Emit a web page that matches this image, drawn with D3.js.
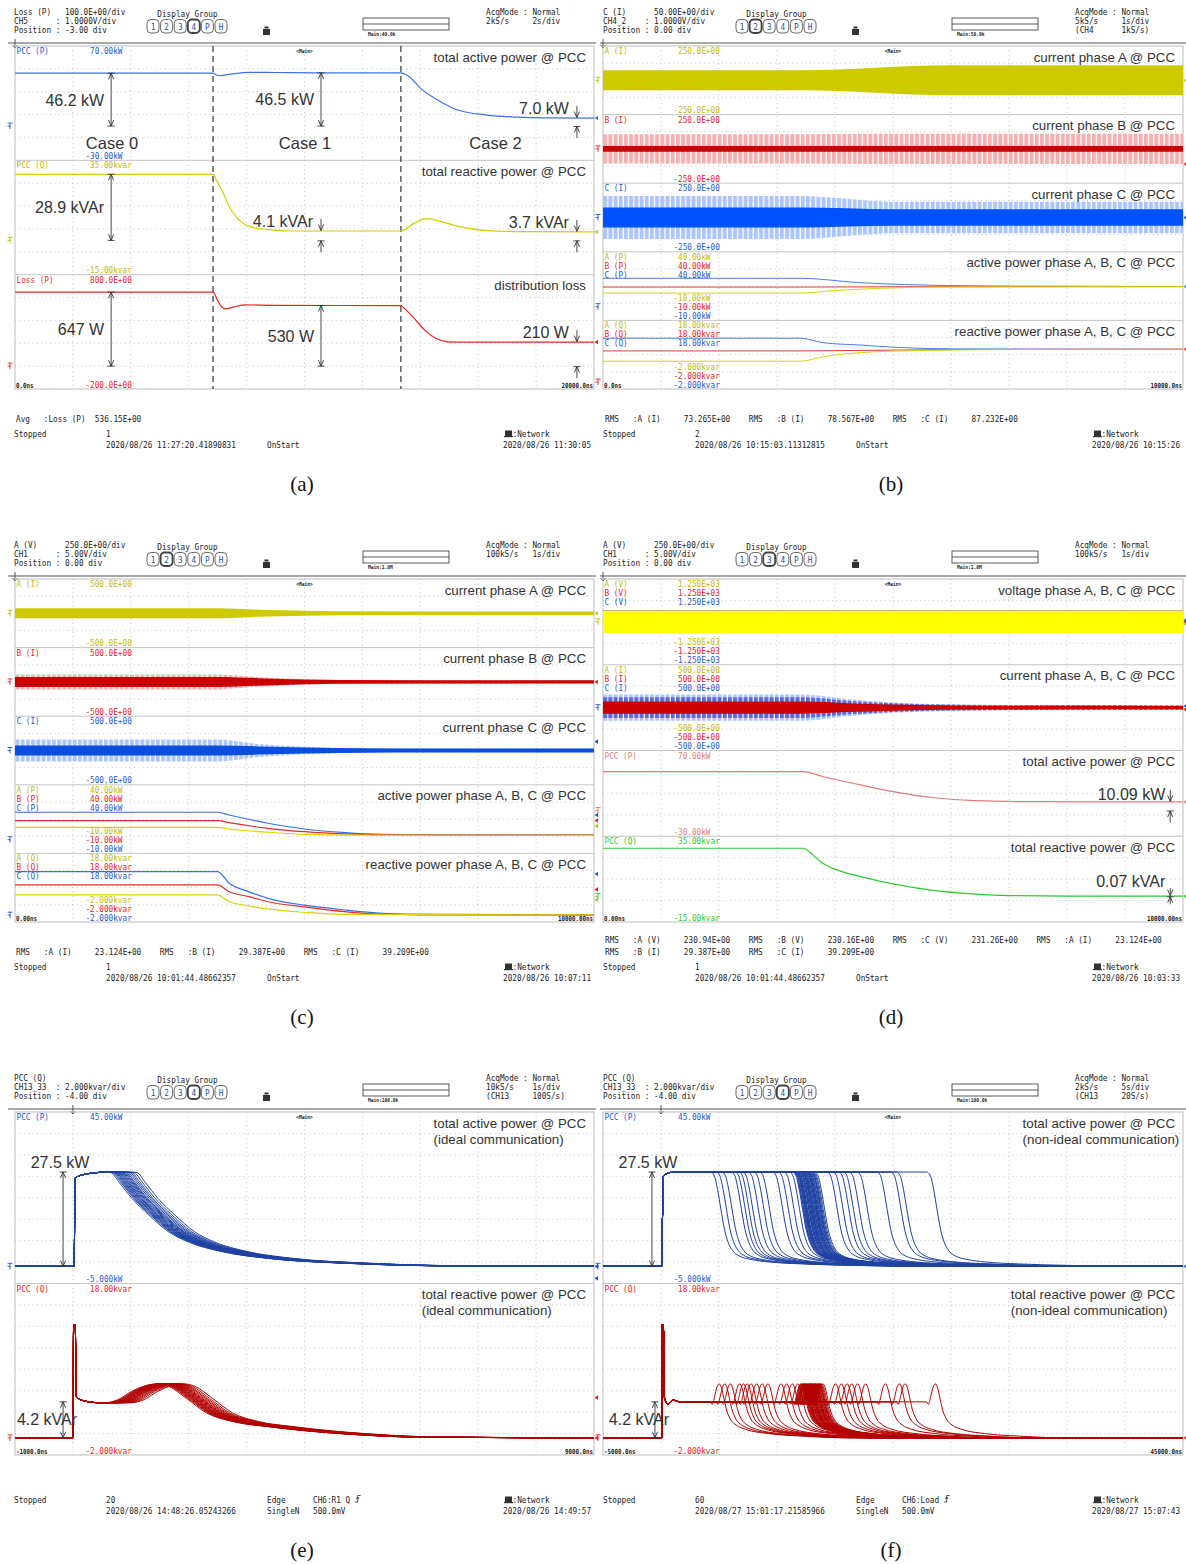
<!DOCTYPE html>
<html>
<head>
<meta charset="utf-8">
<title>PCC power measurements</title>
<script src="https://cdn.jsdelivr.net/npm/d3@7/dist/d3.min.js"></script>
<style>
  html, body { margin: 0; padding: 0; background: #fff; }
  svg { display: block; }
  text { white-space: pre; }
</style>
</head>
<body>
<svg id="fig" width="1186" height="1564" viewBox="0 0 1186 1564"></svg>
<script>
// ======================= recorded data (time in seconds) =======================

// (a) three control cases, 2 s/div
const tA = [0, 20];
const caseEdges_a = [6.84, 13.33];
const caseNames_a = ["Case 0", "Case 1", "Case 2"];
const rangeP_a = [-30, 70], rangeQ_a = [-15, 35], rangeLoss_a = [-200, 800];
const pccP_a = [[0,46.2],[6.84,46.2],[6.95,44.8],[7.08,44.0],[7.5,45.6],[8.08,47.0],[9.0,46.8],[10.5,46.5],[13.33,46.5],[13.6,43.5],[14.0,33.2],[14.7,21.3],[15.3,14.0],[16.3,9.6],[17.3,7.8],[18.5,7.1],[20,7.0]];
const pccQ_a = [[0,28.9],[6.84,28.9],[6.95,26.5],[7.15,21.8],[7.41,14.6],[7.68,9.6],[8.08,6.2],[8.74,4.7],[9.53,4.1],[13.33,4.1],[13.75,7.2],[14.2,9.5],[14.7,8.3],[15.3,6.1],[16.3,4.3],[17.5,3.8],[20,3.7]];
const loss_a = [[0,647],[6.84,647],[7.0,574],[7.15,515],[7.28,501],[7.55,516],[7.95,536],[9,531],[13.33,530],[13.45,505],[13.75,429],[14.16,313],[14.55,241],[14.95,212],[15.5,210],[20,210]];
// annotated levels: [sub-panel, marker time, level, text, kind]
const notes_a = [
  [0, 3.32, 46.2, "46.2 kW", "span"], [0, 10.57, 46.5, "46.5 kW", "span"], [0, 19.41, 7.0, "7.0 kW", "out"],
  [1, 3.32, 28.9, "28.9 kVAr", "span"], [1, 10.57, 4.1, "4.1 kVAr", "out"], [1, 19.41, 3.7, "3.7 kVAr", "out"],
  [2, 3.32, 647, "647 W", "span"], [2, 10.57, 530, "530 W", "span"], [2, 19.41, 210, "210 W", "out"]
];

// (b) phase currents (peak envelopes, A) and per-phase powers, 1 s/div
const tB = [0, 10];
const iA_b = [[0,73],[3.4,73],[6.0,109],[10,109]];
const iB_b = [[0,106],[3.4,106],[4.6,110],[10,110]];
const iBcore_b = [[0,21],[10,21]];
const iC_b = [[0,156],[3.4,156],[5.0,115],[10,115]];
const iCcore_b = [[0,73],[3.4,73],[5.0,61],[10,61]];
const pA_b = [[0,9.9],[3.4,9.9],[4.0,11.8],[4.8,13.4],[6,14.4],[10,14.6]];
const pB_b = [[0,14.3],[3.4,14.3],[6,14.6],[10,14.6]];
const pC_b = [[0,20.7],[3.4,20.7],[4.4,17.6],[5.2,16.1],[7,15.0],[10,14.7]];
const qA_b = [[0,6.1],[3.4,6.1],[3.8,7.4],[4.45,8.6],[5.4,9.2],[7,9.5],[10,9.6]];
const qB_b = [[0,9.1],[3.4,9.1],[6,9.5],[10,9.6]];
const qC_b = [[0,12.8],[3.4,12.8],[3.8,11.5],[4.45,10.8],[5.1,10.1],[6.05,9.7],[10,9.6]];

// (c) phase currents and per-phase powers, 1 s/div
const tC = [0, 10];
const iA_c = [[0,73],[3.5,73],[4.2,52],[5.0,36],[5.6,29],[10,25]];
const iB_c = [[0,109],[3.5,109],[4.2,70],[5.0,40],[5.6,30],[10,25]];
const iBcore_c = [[0,73],[3.5,73],[4.2,55],[5.0,35],[5.6,28],[10,24]];
const iC_c = [[0,160],[3.5,160],[4.2,95],[5.0,55],[6.0,35],[7.0,30],[10,29]];
const iCcore_c = [[0,73],[3.5,73],[4.2,60],[5.0,45],[6.0,34],[7.0,29],[10,28]];
const pA_c = [[0,9.0],[3.5,9.0],[3.7,7.8],[4.37,5.4],[5.0,3.9],[5.7,3.3],[10,3.2]];
const pB_c = [[0,13.9],[3.5,13.9],[3.7,12.4],[4.37,8.3],[5.0,5.8],[5.7,4.2],[6.35,3.6],[10,3.3]];
const pC_c = [[0,20.0],[3.5,20.0],[3.7,18.0],[4.37,12.0],[5.0,7.8],[5.7,5.1],[6.35,3.8],[7.5,3.3],[10,3.3]];
const qA_c = [[0,5.9],[3.5,5.9],[3.7,3.9],[4.04,2.7],[4.37,1.8],[5.0,0.8],[5.7,0.2],[10,0.05]];
const qB_c = [[0,8.8],[3.5,8.8],[3.7,6.8],[4.04,5.4],[4.37,3.9],[5.0,2.4],[5.7,1.0],[6.35,0.3],[10,0.05]];
const qC_c = [[0,12.7],[3.5,12.7],[3.7,9.3],[4.04,6.8],[4.37,4.9],[5.0,2.9],[5.7,1.5],[6.35,0.5],[7.0,0.1],[10,0.05]];

// (d) phase voltages, currents and PCC totals, 1 s/div
const tD = [0, 10];
const vPeak_d = [326.6, 325.5, 327.1];   // phase A, B, C
const iOuter_d = [[0,152],[3.45,152],[4.2,100],[5,60],[6,38],[7,30],[10,29]];
const iMid_d = [[0,120],[3.45,120],[4.2,80],[5,50],[6,33],[7,27],[10,26]];
const iCore_d = [[0,70],[3.45,70],[4.2,52],[5,35],[6,25],[7,21],[10,20]];
const pccP_d = [[0,45.3],[3.45,45.3],[3.8,39.4],[4.45,29.7],[5.1,20.8],[5.7,14.9],[6.4,11.5],[7.5,10.3],[10,10.09]];
const pccQ_d = [[0,28.0],[3.45,28.0],[3.62,24.0],[3.79,19.2],[4.12,14.4],[4.44,11.5],[5.09,6.6],[5.72,3.3],[6.38,1.4],[7.0,0.4],[8,0.1],[10,0.07]];
const notes_d = [[2, 9.78, 10.09, "10.09 kW"], [3, 9.78, 0.07, "0.07 kVAr"]];

// (e) 20 load-step runs, ideal communication, 1 s/div
const tE = [-1, 9];
const depart_e = [0.56,0.59,0.61,0.63,0.65,0.66,0.68,0.70,0.71,0.73,0.75,0.77,0.79,0.81,0.83,0.86,0.89,0.92,0.96,1.01];
const riseP_e = [[-1,0],[0.02,0],[0.04,25.8],[0.2,26.8],[0.4,27.3],[0.55,27.5]];
const fallP_e = [[0,27.5],[0.1,27.3],[0.23,24.7],[0.46,19.8],[0.75,15.0],[1.09,10.1],[1.42,7.2],[2.01,4.3],[2.81,2.3],[4.13,0.9],[6.12,0.1],[9,0],[12,0]];
const riseQ_e = [[-1,0],[0.0,0],[0.012,13.2],[0.04,13.2],[0.06,4.8],[0.2,4.3],[0.45,4.1]];
const bumpQ_e = [[0,4.1],[0.2,4.4],[0.45,5.4],[0.7,6.1],[0.9,6.3],[1.1,6.0],[1.4,4.6],[1.75,2.9],[2.2,1.9],[2.81,1.3],[4.13,0.45],[5.5,0.07],[9,0],[12,0]];

// (f) 60 load-step runs, non-ideal communication, 5 s/div
const tF = [-5, 45];
const depart_f = [4.27,4.75,5.23,6.04,6.37,6.69,7.02,7.5,7.98,8.47,9.6,10.09,10.57,11.05,
  11.31,11.38,11.42,11.49,11.55,11.58,11.66,11.71,11.74,11.83,11.87,11.93,11.96,12.04,12.07,12.15,
  12.2,12.24,12.31,12.35,12.43,12.46,12.52,12.6,12.63,12.71,12.76,12.84,12.92,13.0,13.09,13.21,
  14.3,14.8,15.3,15.7,16.2,16.9,18.6,19.8,20.3,22.9,11.62,12.11,12.55,12.88];
const riseP_f = [[-5,0],[0.05,0],[0.2,26.2],[0.6,27.2],[1.2,27.5]];
const fallP_f = [[0,27.5],[0.3,26.6],[0.6,22.5],[0.9,16.5],[1.2,10.8],[1.5,7.2],[1.9,4.6],[2.5,3.0],[3.5,2.0],[5,1.3],[8,0.7],[12,0.3],[18,0],[40,0]];
const riseQ_f = [[-5,0],[0.05,0],[0.1,13.2],[0.2,13.2],[0.3,4.7],[0.6,3.9],[1.0,4.4],[1.6,4.2]];
const bumpQ_f = [[0,4.2],[0.15,3.9],[0.35,4.8],[0.55,5.9],[0.75,6.3],[0.95,5.8],[1.15,4.6],[1.35,3.4],[1.7,2.2],[2.2,1.5],[3,1.0],[5,0.5],[8,0.2],[12,0],[40,0]];

// annotated step levels in (e) and (f): [sub-panel, marker time, level, text]
const notes_e = [[0, -0.17, 27.5, "27.5 kW"], [1, -0.17, 4.2, "4.2 kVAr"]];
const notes_f = [[0, -0.78, 27.5, "27.5 kW"], [1, -0.52, 4.2, "4.2 kVAr"]];

// instrument header / footer texts
const head_a = ["Loss (P)   100.0E+00/div", "CH5      : 1.0000V/div", "Position : -3.00 div"];
const head_b = ["C (I)      50.00E+00/div", "CH4_2    : 1.0000V/div", "Position : 0.00 div"];
const head_cd = ["A (V)      250.0E+00/div", "CH1      : 5.00V/div", "Position : 0.00 div"];
const head_ef = ["PCC (Q)", "CH13_33  : 2.000kvar/div", "Position : -4.00 div"];
const acq_a = ["AcqMode : Normal", "2kS/s     2s/div"];
const acq_b = ["AcqMode : Normal", "5kS/s     1s/div", "(CH4      1kS/s)"];
const acq_cd = ["AcqMode : Normal", "100kS/s   1s/div"];
const acq_e = ["AcqMode : Normal", "10kS/s    1s/div", "(CH13     100S/s)"];
const acq_f = ["AcqMode : Normal", "2kS/s     5s/div", "(CH13     20S/s)"];
const foot_a = { stat: ["Avg   :Loss (P)  536.15E+00"], count: "1", start: "2020/08/26 11:27:20.41890831", end: "2020/08/26 11:30:05" };
const foot_b = { stat: ["RMS   :A (I)     73.265E+00    RMS   :B (I)     78.567E+00    RMS   :C (I)     87.232E+00"], count: "2", start: "2020/08/26 10:15:03.11312815", end: "2020/08/26 10:15:26" };
const foot_c = { stat: ["RMS   :A (I)     23.124E+00    RMS   :B (I)     29.387E+00    RMS   :C (I)     39.209E+00"], count: "1", start: "2020/08/26 10:01:44.48662357", end: "2020/08/26 10:07:11" };
const foot_d = { stat: ["RMS   :A (V)     230.94E+00    RMS   :B (V)     230.16E+00    RMS   :C (V)     231.26E+00    RMS   :A (I)     23.124E+00",
                        "RMS   :B (I)     29.387E+00    RMS   :C (I)     39.209E+00"], count: "1", start: "2020/08/26 10:01:44.48662357", end: "2020/08/26 10:03:33" };
const foot_e = { stat: [], count: "20", start: "2020/08/26 14:48:26.05243266", edge: ["Edge", "CH6:R1 Q", "SingleN", "500.0mV"], end: "2020/08/26 14:49:57" };
const foot_f = { stat: [], count: "60", start: "2020/08/27 15:01:17.21585966", edge: ["Edge", "CH6:Load", "SingleN", "500.0mV"], end: "2020/08/27 15:07:43" };
const captions = ["(a)", "(b)", "(c)", "(d)", "(e)", "(f)"];

// ======================= drawing =======================
const ROW_Y = [0, 533, 1066];
const COL_X = [[15, 594], [603, 1183]];
const HEAD_X = [14, 603];
const RULE_X = [[8, 596], [600, 1186]];
const MONO = "'DejaVu Sans Mono','Liberation Mono',monospace";
const SANS = "'Liberation Sans',Arial,Helvetica,sans-serif";
const SERIF = "'Liberation Serif','Times New Roman',serif";
const COL = {
  labBlue: "#2459d6", pBlue: "#3b72e6", labYellow: "#c2bc00", qYellow: "#d4ce00", red: "#f02020",
  bandYellow: "#cdcb00", coreRed: "#cc0000", coreBlue: "#0052ff",
  lineY: "#d9d21c", lineR: "#e63a3a", lineB: "#4b7ce8",
  pink: "#e67a7a", green: "#2dcc2d", volt: "#ffff00", runP: "#1e41a2", runQ: "#b30000"
};

const svg = d3.select("#fig");
const defs = svg.append("defs");
svg.append("rect").attr("width", 1186).attr("height", 1564).attr("fill", "#fff");

function stripe(id, color) {
  const p = defs.append("pattern").attr("id", id).attr("patternUnits", "userSpaceOnUse")
    .attr("width", 5.2).attr("height", 8);
  p.append("rect").attr("width", 3.9).attr("height", 8).attr("fill", color);
}
stripe("stripeRed", "#f4b0b0");
stripe("stripeBlue", "#abc5ff");
stripe("stripeNavy", "#5a6bd8");

function mono(g, x, y, s, fill, size, anchor, weight) {
  return g.append("text")
    .attr("transform", `translate(${x},${y}) scale(0.83,1)`)
    .attr("font-family", MONO).attr("font-size", size || 9.3)
    .attr("fill", fill || "#1a1a1a")
    .attr("text-anchor", anchor || "start")
    .attr("font-weight", weight || null)
    .text(s);
}
function sans(g, x, y, s, size, anchor) {
  return g.append("text").attr("x", x).attr("y", y)
    .attr("font-family", SANS).attr("font-size", size)
    .attr("fill", "#333").attr("text-anchor", anchor || "start").text(s);
}

let clipCount = 0;
function scope(col, row, cfg) {
  const oy = ROW_Y[row], hx = HEAD_X[col];
  const [x0, x1] = COL_X[col];
  const y0 = 46 + oy, y1 = 389 + oy;
  const g = svg.append("g");
  const x = d3.scaleLinear().domain(cfg.time).range([x0, x1]);
  const sy = d3.range(cfg.nSub + 1).map(i => y0 + i * (y1 - y0) / cfg.nSub);

  // header block
  cfg.head.forEach((s, i) => mono(g, hx, oy + 15 + 9 * i, s));
  mono(g, hx + 173.5, oy + 17, "Display Group", null, 9.3, "middle");
  ["1", "2", "3", "4", "P", "H"].forEach((s, i) => {
    const bx = hx + 133 + 13.6 * i;
    g.append("rect").attr("x", bx).attr("y", oy + 19.5).attr("width", 12).attr("height", 13.5)
      .attr("rx", 4).attr("fill", "#fff").attr("stroke", "#444")
      .attr("stroke-width", cfg.group === i ? 1.9 : 0.8);
    mono(g, bx + 6, oy + 29.8, s, "#1f4f9f", 9.3, "middle");
  });
  g.append("rect").attr("x", hx + 249).attr("y", oy + 29).attr("width", 7).attr("height", 6).attr("fill", "#333");
  g.append("rect").attr("x", hx + 250.5).attr("y", oy + 26.5).attr("width", 4).attr("height", 2).attr("fill", "#333");
  g.append("rect").attr("x", hx + 349).attr("y", oy + 18).attr("width", 86).attr("height", 12)
    .attr("fill", "none").attr("stroke", "#333").attr("stroke-width", 0.8);
  g.append("line").attr("x1", hx + 349).attr("x2", hx + 435).attr("y1", oy + 24).attr("y2", oy + 24)
    .attr("stroke", "#333").attr("stroke-width", 0.8);
  mono(g, hx + 354, oy + 36, cfg.main, null, 5.5, null, "bold");
  cfg.acq.forEach((s, i) => mono(g, hx + 472, oy + 15 + 9 * i, s));
  g.append("line").attr("x1", RULE_X[col][0]).attr("x2", RULE_X[col][1])
    .attr("y1", oy + 43).attr("y2", oy + 43).attr("stroke", "#555").attr("stroke-width", 1);
  const tx = cfg.trig == null ? x0 : x(cfg.trig);
  g.append("path").attr("d", `M${tx},${oy + 39}V${oy + 48}M${tx - 2.5},${oy + 45}L${tx},${oy + 48}L${tx + 2.5},${oy + 45}`)
    .attr("fill", "none").attr("stroke", "#333").attr("stroke-width", 0.8);

  // screen grid
  const grid = g.append("g").attr("stroke", "#b3b3b3").attr("stroke-width", 0.8).attr("stroke-dasharray", "1,3.4");
  d3.range(1, 10).forEach(i => {
    const gx = x0 + i * (x1 - x0) / 10;
    grid.append("line").attr("x1", gx).attr("x2", gx).attr("y1", y0).attr("y2", y1);
  });
  for (let k = 0; k < cfg.nSub; k++) {
    for (let j = 1; j < cfg.nDiv; j++) {
      const gy = sy[k] + j * (sy[k + 1] - sy[k]) / cfg.nDiv;
      grid.append("line").attr("x1", x0).attr("x2", x1).attr("y1", gy).attr("y2", gy);
    }
  }
  sy.slice(1, -1).forEach(v => g.append("line").attr("x1", x0).attr("x2", x1)
    .attr("y1", v).attr("y2", v).attr("stroke", "#c6c6c6"));
  g.append("rect").attr("x", x0).attr("y", y0).attr("width", x1 - x0).attr("height", y1 - y0)
    .attr("fill", "none").attr("stroke", "#bdbdbd");
  mono(g, (x0 + x1) / 2, y0 + 7, "<Main>", null, 5.5, "middle", "bold");

  const id = "clip" + (clipCount++);
  defs.append("clipPath").attr("id", id).append("rect")
    .attr("x", x0).attr("y", y0).attr("width", x1 - x0).attr("height", y1 - y0);
  const plot = g.append("g").attr("clip-path", `url(#${id})`);
  const over = g.append("g");
  mono(over, x0 + 1, y1 - 1.5, cfg.tLabels[0], null, 7, null, "bold");
  mono(over, x1 - 1, y1 - 1.5, cfg.tLabels[1], null, 7, "end", "bold");
  return { g: over, plot, x, sy, x0, x1, y0, y1, oy, hx };
}

function footer(P, f) {
  const g = P.g, oy = P.oy, hx = P.hx;
  f.stat.forEach((s, i) => mono(g, hx + 2, oy + 422 - 12 * (f.stat.length - 1 - i), s));
  mono(g, hx, oy + 437, "Stopped");
  mono(g, hx + 92, oy + 437, f.count);
  mono(g, hx + 92, oy + 448, f.start);
  if (f.edge) {
    mono(g, hx + 253, oy + 437, f.edge[0]);
    mono(g, hx + 299, oy + 437, f.edge[1]);
    const ex = hx + 299 + f.edge[1].length * 4.65 + 5;
    g.append("path").attr("d", `M${ex},${oy + 436}h2.5v-6.5h3M${ex + 1},${oy + 433}l1.5,-2l1.5,2`)
      .attr("fill", "none").attr("stroke", "#222").attr("stroke-width", 0.8);
    mono(g, hx + 253, oy + 448, f.edge[2]);
    mono(g, hx + 299, oy + 448, f.edge[3]);
  } else {
    mono(g, hx + 253, oy + 448, "OnStart");
  }
  g.append("rect").attr("x", hx + 491).attr("y", oy + 430.5).attr("width", 7).attr("height", 5.5).attr("fill", "#333");
  g.append("rect").attr("x", hx + 490).attr("y", oy + 436).attr("width", 9).attr("height", 1.2).attr("fill", "#333");
  mono(g, hx + 498.5, oy + 437, ":Network");
  mono(g, hx + 489, oy + 448, f.end);
}

function yScale(P, k, dom) {
  return d3.scaleLinear().domain(dom).range([P.sy[k + 1], P.sy[k]]);
}
function trace(P, data, y, color, w) {
  return P.plot.append("path").datum(data)
    .attr("fill", "none").attr("stroke", color).attr("stroke-width", w || 1.2)
    .attr("stroke-linejoin", "round")
    .attr("d", d3.line().x(d => P.x(d[0])).y(d => y(d[1])).curve(d3.curveMonotoneX));
}
function band(P, env, y, fill) {
  return P.plot.append("path").datum(env).attr("fill", fill)
    .attr("d", d3.area().x(d => P.x(d[0])).y0(d => y(-d[1])).y1(d => y(d[1])).curve(d3.curveMonotoneX));
}
function chanText(P, k, chans, colors) {
  const top = P.sy[k], bot = P.sy[k + 1], xv = P.x0 + 70.4;
  chans.forEach((c, i) => {
    mono(P.g, P.x0 + 1.5, top + 8 + 9 * i, c[0], colors[i]);
    mono(P.g, xv, top + 8 + 9 * i, c[1], colors[i]);
    mono(P.g, xv, bot - 1.5 - 9 * (chans.length - 1 - i), c[2], colors[i]);
  });
}
function title(P, k, lines) {
  const t1 = sans(P.g, P.x1 - 8, P.sy[k] + 15.5, lines[0], 13.3, "end");
  if (lines[1]) {
    const bx = t1.node().getBBox().x;
    sans(P.g, bx, P.sy[k] + 31.5, lines[1], 13.3);
  }
}
function zeroMark(P, y, color) {
  const xm = P.x0 - 5;
  P.g.append("path").attr("d", `M${xm - 2.5},${y - 3}h5M${xm},${y - 3}v6M${xm - 2.5},${y}h3`)
    .attr("stroke", color).attr("fill", "none").attr("stroke-width", 0.9);
}
function endMark(P, y, color) {
  P.g.append("path").attr("d", `M${P.x1 + 0.5},${y}l3.5,-2.3v4.6z`).attr("fill", color);
}
function head(g, xa, yy, dir) {
  // open arrow head whose tip sits at (xa, yy); dir = 1 points down, -1 points up
  g.append("path").attr("d", `M${xa - 2.6},${yy - dir * 6}L${xa},${yy}L${xa + 2.6},${yy - dir * 6}`);
}
function arrowGroup(P) {
  return P.g.append("g").attr("stroke", "#333").attr("stroke-width", 0.9).attr("fill", "none");
}
function spanNote(P, t, y, level, text, lab) {
  const xa = P.x(t), ya = y(level), yb = y(0);
  const a = arrowGroup(P);
  a.append("line").attr("x1", xa).attr("x2", xa).attr("y1", ya).attr("y2", yb);
  head(a, xa, ya, -1); head(a, xa, yb, 1);
  a.append("path").attr("d", `M${xa - 3.5},${ya}h7M${xa - 3.5},${yb}h7`);
  const mid = (ya + yb) / 2;
  const ly = lab.above ? ya - 4 : mid + lab.dy;
  sans(P.g, xa + lab.dx, ly, text, 16, lab.anchor);
}
function outNote(P, t, y, level, text, len, dy, dx) {
  const xa = P.x(t), ya = y(level), yz = y(0);
  const a = arrowGroup(P);
  a.append("line").attr("x1", xa).attr("x2", xa).attr("y1", ya - len).attr("y2", ya - 0.5);
  head(a, xa, ya - 0.5, 1);
  a.append("line").attr("x1", xa).attr("x2", xa).attr("y1", yz + len).attr("y2", yz + 0.5);
  head(a, xa, yz + 0.5, -1);
  a.append("path").attr("d", `M${xa - 3.5},${yz + 0.5}h7`);
  sans(P.g, xa + dx, ya + dy, text, 16, "end");
}
function runs(rise, fall, departs) {
  return departs.map(d => rise.filter(p => p[0] < d).concat(fall.map(p => [p[0] + d, p[1]])));
}

// ---------------- (a) ----------------
const pa = scope(0, 0, { time: tA, nSub: 3, nDiv: 5, head: head_a, group: 3, main: "Main:40.0k", acq: acq_a, tLabels: ["0.0ns", "20000.0ns"] });
const yPa = yScale(pa, 0, rangeP_a), yQa = yScale(pa, 1, rangeQ_a), yLa = yScale(pa, 2, rangeLoss_a);
const ysA = [yPa, yQa, yLa];
caseEdges_a.forEach(t => pa.plot.append("line").attr("x1", pa.x(t)).attr("x2", pa.x(t))
  .attr("y1", pa.y0).attr("y2", pa.y1).attr("stroke", "#222").attr("stroke-width", 1.1).attr("stroke-dasharray", "6,4"));
trace(pa, pccP_a, yPa, COL.pBlue);
trace(pa, pccQ_a, yQa, COL.qYellow);
trace(pa, loss_a, yLa, COL.red);
chanText(pa, 0, [["PCC (P)", " 70.00kW", "-30.00kW"]], [COL.labBlue]);
chanText(pa, 1, [["PCC (Q)", " 35.00kvar", "-15.00kvar"]], [COL.labYellow]);
chanText(pa, 2, [["Loss (P)", " 800.0E+00", "-200.0E+00"]], [COL.red]);
title(pa, 0, ["total active power @ PCC"]);
title(pa, 1, ["total reactive power @ PCC"]);
title(pa, 2, ["distribution loss"]);
const caseBounds = [tA[0], ...caseEdges_a, tA[1]];
caseNames_a.forEach((s, i) => sans(pa.g, (pa.x(caseBounds[i]) + pa.x(caseBounds[i + 1])) / 2 - 2, pa.sy[1] - 11, s, 16.5, "middle"));
notes_a.forEach(([k, t, v, s, kind]) => {
  if (kind === "span") spanNote(pa, t, ysA[k], v, s, { dx: -7, dy: 6, anchor: "end" });
  else outNote(pa, t, ysA[k], v, s, 12, -4, -8);
});
[[yPa, COL.labBlue], [yQa, COL.labYellow], [yLa, COL.red]].forEach(([y, c]) => zeroMark(pa, y(0), c));
endMark(pa, yPa(pccP_a[pccP_a.length - 1][1]), COL.pBlue);
endMark(pa, yQa(pccQ_a[pccQ_a.length - 1][1]), COL.qYellow);
endMark(pa, yLa(loss_a[loss_a.length - 1][1]), COL.red);
footer(pa, foot_a);

// ---------------- (b) ----------------
const pb = scope(1, 0, { time: tB, nSub: 5, nDiv: 4, head: head_b, group: 1, main: "Main:50.0k", acq: acq_b, tLabels: ["0.0ns", "10000.0ns"] });
const yIb = [0, 1, 2].map(k => yScale(pb, k, [-250, 250]));
const yPb = yScale(pb, 3, [-10, 40]), yQb = yScale(pb, 4, [-2, 18]);
band(pb, iA_b, yIb[0], COL.bandYellow);
band(pb, iB_b, yIb[1], "url(#stripeRed)");
band(pb, iBcore_b, yIb[1], COL.coreRed);
band(pb, iC_b, yIb[2], "url(#stripeBlue)");
band(pb, iCcore_b, yIb[2], COL.coreBlue);
trace(pb, pC_b, yPb, COL.lineB, 1); trace(pb, pB_b, yPb, COL.lineR, 1); trace(pb, pA_b, yPb, COL.lineY, 1);
trace(pb, qC_b, yQb, COL.lineB, 1); trace(pb, qB_b, yQb, COL.lineR, 1); trace(pb, qA_b, yQb, COL.lineY, 1);
const abc = [COL.labYellow, COL.red, COL.labBlue];
chanText(pb, 0, [["A (I)", " 250.0E+00", "-250.0E+00"]], [COL.labYellow]);
chanText(pb, 1, [["B (I)", " 250.0E+00", "-250.0E+00"]], [COL.red]);
chanText(pb, 2, [["C (I)", " 250.0E+00", "-250.0E+00"]], [COL.labBlue]);
chanText(pb, 3, [["A (P)", " 40.00kW", "-10.00kW"], ["B (P)", " 40.00kW", "-10.00kW"], ["C (P)", " 40.00kW", "-10.00kW"]], abc);
chanText(pb, 4, [["A (Q)", " 18.00kvar", "-2.000kvar"], ["B (Q)", " 18.00kvar", "-2.000kvar"], ["C (Q)", " 18.00kvar", "-2.000kvar"]], abc);
title(pb, 0, ["current phase A @ PCC"]);
title(pb, 1, ["current phase B @ PCC"]);
title(pb, 2, ["current phase C @ PCC"]);
title(pb, 3, ["active power phase A, B, C @ PCC"]);
title(pb, 4, ["reactive power phase A, B, C @ PCC"]);
zeroMark(pb, yIb[0](0), COL.labYellow); zeroMark(pb, yIb[1](0), COL.red); zeroMark(pb, yIb[2](0), COL.labBlue);
zeroMark(pb, yPb(0), COL.labBlue); zeroMark(pb, yQb(0), COL.red);
endMark(pb, yIb[0](0), COL.bandYellow); endMark(pb, yIb[1](-110), COL.red); endMark(pb, yIb[2](0), COL.coreBlue);
endMark(pb, yPb(14.6), COL.lineB); endMark(pb, yQb(9.6), COL.red);
footer(pb, foot_b);

// ---------------- (c) ----------------
const pc = scope(0, 1, { time: tC, nSub: 5, nDiv: 4, head: head_cd, group: 1, main: "Main:1.0M", acq: acq_cd, tLabels: ["0.00ns", "10000.00ns"] });
const yIc = [0, 1, 2].map(k => yScale(pc, k, [-500, 500]));
const yPc = yScale(pc, 3, [-10, 40]), yQc = yScale(pc, 4, [-2, 18]);
band(pc, iA_c, yIc[0], COL.bandYellow);
band(pc, iB_c, yIc[1], "url(#stripeRed)");
band(pc, iBcore_c, yIc[1], COL.coreRed);
band(pc, iC_c, yIc[2], "url(#stripeBlue)");
band(pc, iCcore_c, yIc[2], "#0a4ee0");
trace(pc, pC_c, yPc, "#3a6fe3", 1.2); trace(pc, pB_c, yPc, "#e42a2a", 1.2); trace(pc, pA_c, yPc, "#dcd400", 1.2);
trace(pc, qC_c, yQc, "#3a6fe3", 1.2); trace(pc, qB_c, yQc, "#e42a2a", 1.2); trace(pc, qA_c, yQc, "#dcd400", 1.2);
chanText(pc, 0, [["A (I)", " 500.0E+00", "-500.0E+00"]], [COL.labYellow]);
chanText(pc, 1, [["B (I)", " 500.0E+00", "-500.0E+00"]], [COL.red]);
chanText(pc, 2, [["C (I)", " 500.0E+00", "-500.0E+00"]], [COL.labBlue]);
chanText(pc, 3, [["A (P)", " 40.00kW", "-10.00kW"], ["B (P)", " 40.00kW", "-10.00kW"], ["C (P)", " 40.00kW", "-10.00kW"]], abc);
chanText(pc, 4, [["A (Q)", " 18.00kvar", "-2.000kvar"], ["B (Q)", " 18.00kvar", "-2.000kvar"], ["C (Q)", " 18.00kvar", "-2.000kvar"]], abc);
title(pc, 0, ["current phase A @ PCC"]);
title(pc, 1, ["current phase B @ PCC"]);
title(pc, 2, ["current phase C @ PCC"]);
title(pc, 3, ["active power phase A, B, C @ PCC"]);
title(pc, 4, ["reactive power phase A, B, C @ PCC"]);
zeroMark(pc, yIc[0](0), COL.labYellow); zeroMark(pc, yIc[1](0), COL.red); zeroMark(pc, yIc[2](0), COL.labBlue);
zeroMark(pc, yPc(0), COL.labBlue); zeroMark(pc, yQc(0), COL.labBlue);
endMark(pc, yIc[0](0), COL.bandYellow); endMark(pc, yIc[1](0), COL.red); endMark(pc, yIc[2](130), COL.labBlue);
endMark(pc, yPc(18), COL.labBlue); endMark(pc, yPc(14), COL.red); endMark(pc, yPc(10), COL.labYellow);
endMark(pc, yQc(12), COL.labBlue); endMark(pc, yQc(7.5), COL.red); endMark(pc, yQc(4.5), COL.labYellow);
footer(pc, foot_c);

// ---------------- (d) ----------------
const pd = scope(1, 1, { time: tD, nSub: 4, nDiv: 4, head: head_cd, group: 2, main: "Main:1.0M", acq: acq_cd, tLabels: ["0.00ns", "10000.00ns"] });
const yVd = yScale(pd, 0, [-1250, 1250]), yId = yScale(pd, 1, [-500, 500]);
const yPd = yScale(pd, 2, [-30, 70]), yQd = yScale(pd, 3, [-15, 35]);
[COL.coreBlue, COL.coreRed, COL.volt].forEach((c, i) => band(pd, [[tD[0], vPeak_d[2 - i]], [tD[1], vPeak_d[2 - i]]], yVd, c));
band(pd, iOuter_d, yId, "url(#stripeBlue)");
band(pd, iMid_d, yId, "url(#stripeNavy)");
band(pd, iCore_d, yId, COL.coreRed);
trace(pd, pccP_d, yPd, COL.pink, 1.2);
trace(pd, pccQ_d, yQd, COL.green, 1.2);
chanText(pd, 0, [["A (V)", " 1.250E+03", "-1.250E+03"], ["B (V)", " 1.250E+03", "-1.250E+03"], ["C (V)", " 1.250E+03", "-1.250E+03"]], abc);
chanText(pd, 1, [["A (I)", " 500.0E+00", "-500.0E+00"], ["B (I)", " 500.0E+00", "-500.0E+00"], ["C (I)", " 500.0E+00", "-500.0E+00"]], abc);
chanText(pd, 2, [["PCC (P)", " 70.00kW", "-30.00kW"]], [COL.pink]);
chanText(pd, 3, [["PCC (Q)", " 35.00kvar", "-15.00kvar"]], [COL.green]);
title(pd, 0, ["voltage phase A, B, C @ PCC"]);
title(pd, 1, ["current phase A, B, C @ PCC"]);
title(pd, 2, ["total active power @ PCC"]);
title(pd, 3, ["total reactive power @ PCC"]);
outNote(pd, notes_d[0][1], yPd, notes_d[0][2], notes_d[0][3], 12, -1.5, -5);
outNote(pd, notes_d[1][1], yQd, notes_d[1][2], notes_d[1][3], 8, -9.5, -5);
zeroMark(pd, yVd(0), COL.labYellow); zeroMark(pd, yId(0), COL.labBlue);
zeroMark(pd, yPd(0), COL.pink); zeroMark(pd, yQd(0), COL.green);
endMark(pd, yVd(50), COL.coreBlue); endMark(pd, yVd(0), COL.coreRed); endMark(pd, yVd(-60), COL.labYellow);
endMark(pd, yId(20), COL.coreBlue); endMark(pd, yId(-20), COL.coreRed);
endMark(pd, yPd(10.09), COL.pink); endMark(pd, yQd(0.07), COL.green);
footer(pd, foot_d);

// ---------------- (e) ----------------
const pe = scope(0, 2, { time: tE, nSub: 2, nDiv: 8, head: head_ef, group: 3, main: "Main:100.0k", acq: acq_e, trig: 0, tLabels: ["-1000.0ns", "9000.0ns"] });
const yPe = yScale(pe, 0, [-5, 45]), yQe = yScale(pe, 1, [-2, 18]);
runs(riseP_e, fallP_e, depart_e).forEach(r => trace(pe, r, yPe, COL.runP, 1));
runs(riseQ_e, bumpQ_e, depart_e).forEach(r => trace(pe, r, yQe, COL.runQ, 1));
chanText(pe, 0, [["PCC (P)", " 45.00kW", "-5.000kW"]], [COL.labBlue]);
chanText(pe, 1, [["PCC (Q)", " 18.00kvar", "-2.000kvar"]], [COL.red]);
title(pe, 0, ["total active power @ PCC", "(ideal communication)"]);
title(pe, 1, ["total reactive power @ PCC", "(ideal communication)"]);
spanNote(pe, notes_e[0][1], yPe, notes_e[0][2], notes_e[0][3], { above: true, dx: -3, anchor: "middle" });
spanNote(pe, notes_e[1][1], yQe, notes_e[1][2], notes_e[1][3], { dx: 14, dy: 5, anchor: "end" });
zeroMark(pe, yPe(0), COL.labBlue); zeroMark(pe, yQe(0), COL.red);
endMark(pe, yPe(0), COL.labBlue); endMark(pe, yPe(-3.5), COL.labBlue); endMark(pe, yQe(4.7), COL.red); endMark(pe, yQe(0), COL.red);
footer(pe, foot_e);

// ---------------- (f) ----------------
const pf = scope(1, 2, { time: tF, nSub: 2, nDiv: 8, head: head_ef, group: 3, main: "Main:100.0k", acq: acq_f, trig: 0, tLabels: ["-5000.0ns", "45000.0ns"] });
const yPf = yScale(pf, 0, [-5, 45]), yQf = yScale(pf, 1, [-2, 18]);
runs(riseP_f, fallP_f, depart_f).forEach(r => trace(pf, r, yPf, COL.runP, 1));
runs(riseQ_f, bumpQ_f, depart_f).forEach(r => trace(pf, r, yQf, COL.runQ, 1));
chanText(pf, 0, [["PCC (P)", " 45.00kW", "-5.000kW"]], [COL.labBlue]);
chanText(pf, 1, [["PCC (Q)", " 18.00kvar", "-2.000kvar"]], [COL.red]);
title(pf, 0, ["total active power @ PCC", "(non-ideal communication)"]);
title(pf, 1, ["total reactive power @ PCC", "(non-ideal communication)"]);
spanNote(pf, notes_f[0][1], yPf, notes_f[0][2], notes_f[0][3], { above: true, dx: -4, anchor: "middle" });
spanNote(pf, notes_f[1][1], yQf, notes_f[1][2], notes_f[1][3], { dx: 14, dy: 5, anchor: "end" });
zeroMark(pf, yPf(0), COL.labBlue); zeroMark(pf, yQf(0), COL.red);
endMark(pf, yPf(0), COL.labBlue); endMark(pf, yQf(0), COL.red);
footer(pf, foot_f);

// ---------------- captions ----------------
captions.forEach((s, i) => svg.append("text")
  .attr("x", [302, 891][i % 2]).attr("y", 491 + 533 * Math.floor(i / 2))
  .attr("text-anchor", "middle").attr("font-family", SERIF).attr("font-size", 21)
  .attr("fill", "#111").text(s));
</script>
</body>
</html>
